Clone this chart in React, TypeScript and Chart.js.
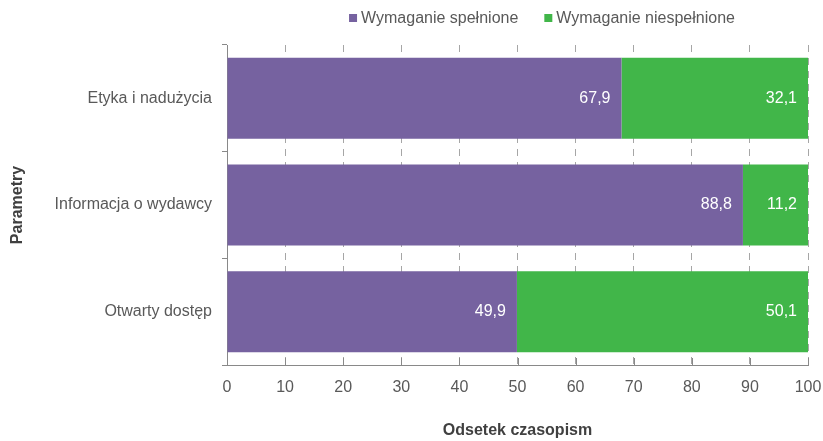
import React, { useEffect, useRef } from "react";
import { Chart, registerables } from "chart.js";

Chart.register(...registerables);

const categories = ["Etyka i nadużycia", "Informacja o wydawcy", "Otwarty dostęp"];
const metValues = [67.9, 88.8, 49.9];
const notMetValues = [32.1, 11.2, 50.1];
const seriesNames = ["Wymaganie spełnione", "Wymaganie niespełnione"];
const seriesColors = ["#7662A0", "#41B649"];
const xTicks = [0, 10, 20, 30, 40, 50, 60, 70, 80, 90, 100];
const xTitle = "Odsetek czasopism";
const yTitle = "Parametry";

const FONT = "'Liberation Sans', Arial, sans-serif";
const TEXT = "#595959";
const AXIS = "#898989";
const GRID = "#a6a6a6";

const fmt = (v: number) => v.toFixed(1).replace(".", ",");

const extrasPlugin = {
  id: "extras",
  afterDatasetsDraw(chart: any) {
    const { ctx, chartArea } = chart;
    ctx.save();
    ctx.font = `16px ${FONT}`;
    ctx.fillStyle = "#ffffff";
    ctx.textAlign = "right";
    ctx.textBaseline = "middle";
    chart.data.datasets.forEach((ds: any, di: number) => {
      const meta = chart.getDatasetMeta(di);
      meta.data.forEach((bar: any, i: number) => {
        ctx.fillText(fmt(ds.data[i]), bar.x - 11, bar.y);
      });
    });
    ctx.restore();
    const xs = chart.scales.x;
    ctx.save();
    ctx.strokeStyle = AXIS;
    ctx.lineWidth = 1;
    ctx.beginPath();
    xs.ticks.forEach((t: any) => {
      const px = Math.round(xs.getPixelForValue(t.value)) + 0.5;
      ctx.moveTo(px, chartArea.bottom);
      ctx.lineTo(px, chartArea.bottom - 7);
    });
    ctx.stroke();
    ctx.restore();
  },
  afterDraw(chart: any) {
    const { ctx } = chart;
    ctx.save();
    ctx.font = `16px ${FONT}`;
    ctx.textBaseline = "middle";
    ctx.textAlign = "left";
    const box = 8;
    const gapBoxText = 4;
    const gapItems = 26;
    const widths = seriesNames.map((n) => box + gapBoxText + ctx.measureText(n).width);
    const total = widths.reduce((a, b) => a + b, 0) + gapItems;
    let x = 542 - total / 2;
    const y = 18;
    seriesNames.forEach((n, i) => {
      ctx.fillStyle = seriesColors[i];
      ctx.fillRect(x, y - box / 2, box, box);
      ctx.fillStyle = TEXT;
      ctx.fillText(n, x + box + gapBoxText, y + 1);
      x += widths[i] + gapItems;
    });
    ctx.restore();
  },
};

export default function App() {
  const ref = useRef<HTMLCanvasElement | null>(null);
  useEffect(() => {
    document.body.style.margin = "0";
    if (!ref.current) return;
    const chart = new Chart(ref.current, {
      type: "bar",
      data: {
        labels: categories,
        datasets: [
          {
            label: seriesNames[0],
            data: metValues,
            backgroundColor: seriesColors[0],
            barPercentage: 0.76,
            categoryPercentage: 1,
          },
          {
            label: seriesNames[1],
            data: notMetValues,
            backgroundColor: seriesColors[1],
            barPercentage: 0.76,
            categoryPercentage: 1,
          },
        ],
      },
      options: {
        indexAxis: "y",
        animation: false,
        responsive: false,
        maintainAspectRatio: false,
        layout: { padding: { top: 45, right: 15, left: 0, bottom: 0 } },
        plugins: {
          legend: { display: false },
          tooltip: { enabled: false },
        },
        scales: {
          x: {
            stacked: true,
            min: 0,
            max: 100,
            afterFit: (s: any) => {
              s.height = 76;
              s.paddingLeft = 0;
              s.paddingRight = 0;
            },
            afterBuildTicks: (s: any) => {
              s.ticks = xTicks.map((v) => ({ value: v }));
            },
            ticks: {
              color: TEXT,
              font: { family: FONT, size: 16 },
              padding: 13,
              maxRotation: 0,
            },
            grid: {
              color: GRID,
              lineWidth: 1,
              drawTicks: false,
              tickLength: 0,
            },
            border: { color: AXIS, width: 1, dash: [7, 6] },
            title: {
              display: true,
              text: xTitle,
              color: "#404040",
              font: { family: FONT, size: 16, weight: "bold" },
              padding: { top: 0, bottom: 1 },
            },
          },
          y: {
            stacked: true,
            afterFit: (s: any) => {
              s.width = 227;
            },
            ticks: {
              color: TEXT,
              font: { family: FONT, size: 16 },
              padding: 10,
            },
            grid: {
              offset: true,
              drawOnChartArea: false,
              drawTicks: true,
              tickLength: 5,
              tickColor: AXIS,
              tickBorderDash: [],
            },
            border: { color: AXIS, width: 1 },
            title: {
              display: true,
              text: yTitle,
              color: "#404040",
              font: { family: FONT, size: 16, weight: "bold" },
              padding: { top: 8, bottom: 0 },
            },
          },
        },
      },
      plugins: [extrasPlugin],
    } as any);
    return () => chart.destroy();
  }, []);
  return (
    <div style={{ width: 823, height: 441 }}>
      <canvas ref={ref} width={823} height={441} style={{ display: "block" }} />
    </div>
  );
}
